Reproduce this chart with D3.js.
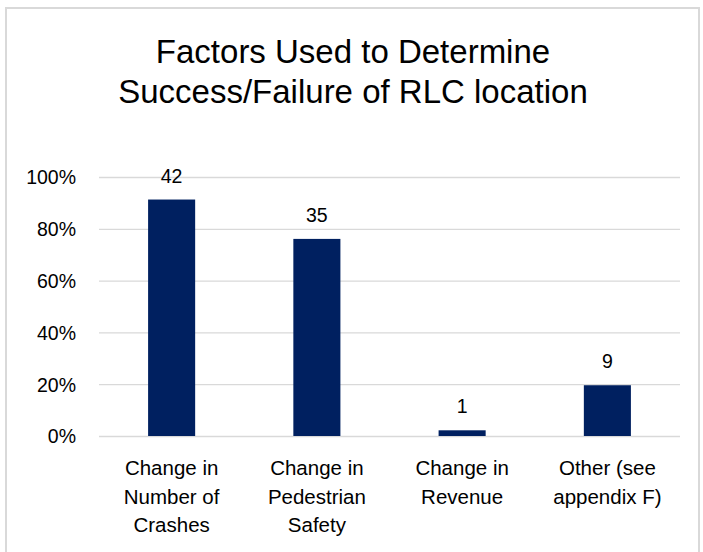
<!DOCTYPE html>
<html>
<head>
<meta charset="utf-8">
<title>Factors Used to Determine Success/Failure of RLC location</title>
<script src="https://cdn.jsdelivr.net/npm/d3@7"></script>
<style>
	body { margin: 0; background: #fff; }
	svg { display: block; font-family: "Liberation Sans", Arial, sans-serif; }
	.grid .domain { display: none; }
	.grid line { stroke: #d9d9d9; stroke-width: 1.3; }
	.grid text { font-size: 19.5px; fill: #000; }
	.xaxis .domain { display: none; }
	.xaxis text { font-size: 20.5px; fill: #000; }
</style>
</head>
<body>
<svg width="703" height="552"></svg>
<script>
// chart data
var categories = ["Change in Number of Crashes", "Change in Pedestrian Safety", "Change in Revenue", "Other (see appendix F)"];
var categoryLines = [
	["Change in", "Number of", "Crashes"],
	["Change in", "Pedestrian", "Safety"],
	["Change in", "Revenue"],
	["Other (see", "appendix F)"]
];
var counts = [42, 35, 1, 9];           // labels shown on the bars
var shares = [0.913, 0.761, 0.022, 0.196]; // bar heights (share of responses)
var yTicks = [0, 0.2, 0.4, 0.6, 0.8, 1.0];
var titleLines = ["Factors Used to Determine", "Success/Failure of RLC location"];

var svg = d3.select("svg");

// chart frame
svg.append("rect")
	.attr("x", 6).attr("y", 8)
	.attr("width", 693).attr("height", 560)
	.attr("fill", "none")
	.attr("stroke", "#d9d9d9")
	.attr("stroke-width", 2);

// title
svg.append("text")
	.attr("text-anchor", "middle")
	.attr("font-size", 33)
	.attr("fill", "#000")
	.selectAll("tspan")
	.data(titleLines)
	.enter().append("tspan")
	.attr("x", 353)
	.attr("y", function(d, i) { return 63 + i * 40; })
	.text(function(d) { return d; });

var plotLeft = 99, plotRight = 680, plotTop = 177, plotBottom = 436;

var x = d3.scaleBand()
	.domain(categories)
	.range([plotLeft, plotRight])
	.paddingInner(0.676)
	.paddingOuter(0.338);

var y = d3.scaleLinear()
	.domain([0, 1])
	.range([plotBottom, plotTop]);

// gridlines + y labels
svg.append("g")
	.attr("class", "grid")
	.attr("transform", "translate(" + plotLeft + ",0)")
	.call(d3.axisLeft(y)
		.tickValues(yTicks)
		.tickFormat(d3.format(".0%"))
		.tickSizeInner(-(plotRight - plotLeft))
		.tickSizeOuter(0)
		.tickPadding(23))
	.selectAll("text")
	.attr("font-family", null)
	.attr("dy", "0.35em");

// bars
svg.append("g")
	.selectAll("rect")
	.data(categories)
	.enter().append("rect")
	.attr("x", function(d) { return x(d); })
	.attr("y", function(d, i) { return y(shares[i]); })
	.attr("width", x.bandwidth())
	.attr("height", function(d, i) { return y(0) - y(shares[i]); })
	.attr("fill", "#002060");

// value labels
svg.append("g")
	.selectAll("text")
	.data(categories)
	.enter().append("text")
	.attr("x", function(d) { return x(d) + x.bandwidth() / 2; })
	.attr("y", function(d, i) { return y(shares[i]) - 17; })
	.attr("text-anchor", "middle")
	.attr("font-size", 19.5)
	.attr("fill", "#000")
	.text(function(d, i) { return counts[i]; });

// x axis labels (wrapped)
var xa = svg.append("g")
	.attr("class", "xaxis")
	.attr("transform", "translate(0," + plotBottom + ")")
	.call(d3.axisBottom(x).tickSize(0).tickFormat(""));

xa.selectAll(".tick line").remove();
xa.selectAll(".tick text")
	.attr("font-family", null)
	.attr("y", 0)
	.attr("dy", null)
	.each(function(d) {
		var lines = categoryLines[categories.indexOf(d)];
		d3.select(this).selectAll("tspan")
			.data(lines)
			.enter().append("tspan")
			.attr("x", 0)
			.attr("y", function(l, i) { return 39 + i * 28.5; })
			.text(function(l) { return l; });
	});
</script>
</body>
</html>
